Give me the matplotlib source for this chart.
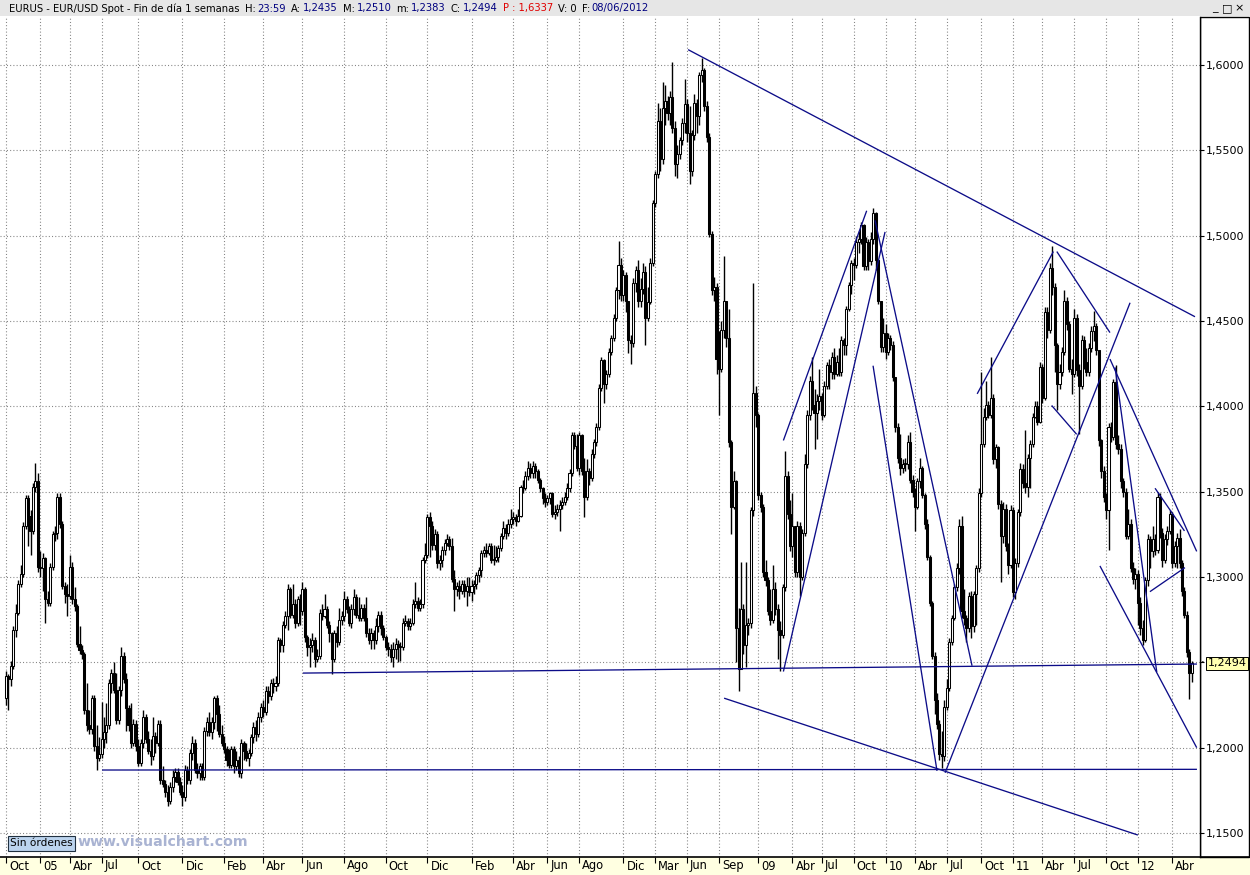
import numpy as np
import matplotlib
matplotlib.use("Agg")
import matplotlib.pyplot as plt
from matplotlib.patches import Rectangle
from matplotlib.lines import Line2D
from matplotlib.transforms import blended_transform_factory, ScaledTranslation

# ---------------- data (weekly EUR/USD candles) ----------------
first_open = 1.229
closes = [
 1.242,1.240,1.248,1.269,1.279,1.296,1.302,1.330,1.346,1.336,
 1.327,1.353,1.356,1.306,1.305,1.311,1.287,1.285,1.306,1.325,
 1.326,1.347,1.331,1.295,1.290,1.289,1.306,1.287,1.283,1.261,
 1.257,1.255,1.222,1.213,1.211,1.229,1.201,1.194,1.196,1.205,
 1.209,1.213,1.238,1.244,1.234,1.216,1.234,1.254,1.240,1.223,
 1.213,1.203,1.214,1.201,1.191,1.203,1.218,1.205,1.198,1.195,
 1.207,1.203,1.214,1.181,1.179,1.174,1.169,1.177,1.183,1.186,
 1.180,1.174,1.171,1.187,1.181,1.197,1.203,1.187,1.185,1.189,
 1.183,1.210,1.215,1.209,1.215,1.229,1.220,1.208,1.203,1.199,
 1.193,1.190,1.199,1.189,1.193,1.185,1.203,1.198,1.194,1.197,
 1.206,1.212,1.208,1.218,1.224,1.221,1.233,1.230,1.238,1.236,
 1.238,1.263,1.260,1.272,1.277,1.293,1.278,1.284,1.273,1.287,
 1.280,1.293,1.265,1.259,1.260,1.263,1.252,1.254,1.279,1.277,
 1.281,1.272,1.267,1.252,1.267,1.262,1.275,1.277,1.287,1.281,
 1.273,1.281,1.288,1.278,1.276,1.282,1.276,1.267,1.263,1.267,
 1.263,1.271,1.278,1.270,1.265,1.259,1.258,1.253,1.258,1.261,
 1.259,1.259,1.273,1.274,1.271,1.273,1.284,1.286,1.282,1.284,
 1.310,1.313,1.335,1.330,1.319,1.325,1.308,1.310,1.316,1.320,
 1.322,1.318,1.299,1.293,1.295,1.292,1.296,1.292,1.295,1.291,
 1.295,1.296,1.301,1.304,1.314,1.316,1.314,1.318,1.310,
 1.310,1.312,1.317,1.324,1.329,1.326,1.331,1.334,1.335,1.333,
 1.336,1.353,1.352,1.359,1.364,1.361,1.365,1.362,1.357,1.352,
 1.346,1.344,1.346,1.349,1.337,1.338,1.340,1.342,1.344,1.347,
 1.352,1.361,1.383,1.377,1.364,1.383,1.362,1.347,1.362,1.358,
 1.372,1.379,1.388,1.411,1.427,1.413,1.419,1.432,1.440,1.452,
 1.468,1.483,1.465,1.477,1.462,1.439,1.437,1.472,1.480,1.462,
 1.469,1.479,1.452,1.461,1.484,1.519,1.536,1.567,1.545,1.575,
 1.579,1.572,1.581,1.563,1.542,1.548,1.556,1.566,1.577,1.560,
 1.538,1.559,1.578,1.570,1.594,1.597,1.576,1.558,1.501,1.468,
 1.470,1.428,
 1.422,1.445,1.462,1.440,1.379,1.341,1.356,1.270,1.246,1.281,
 1.260,1.272,1.273,1.339,1.408,1.395,1.348,1.341,1.303,1.298,
 1.280,1.275,1.293,1.281,1.269,1.266,1.294,1.359,1.337,1.318,
 1.330,1.303,1.330,1.300,1.326,1.366,1.395,1.415,1.401,1.396,
 1.403,1.406,1.395,1.412,1.424,1.420,1.429,1.419,1.426,1.420,
 1.439,1.436,1.457,1.471,1.484,1.483,1.496,1.498,1.506,1.482,
 1.496,1.485,1.498,1.513,1.486,1.462,1.435,1.443,1.432,1.440,
 1.436,1.417,1.388,1.370,1.364,1.366,1.366,1.379,1.357,1.350,
 1.341,1.356,1.364,1.348,1.331,1.312,1.285,1.254,1.228,1.214,
 1.196,1.195,1.224,1.235,1.262,1.276,1.294,
 1.305,1.330,1.280,1.276,1.270,1.289,1.271,1.290,1.305,1.349,
 1.378,1.394,1.401,1.395,1.405,1.369,1.376,1.343,1.324,1.340,
 1.318,1.307,1.339,1.291,1.308,1.338,1.363,1.355,1.353,1.370,
 1.378,1.394,1.400,1.391,1.423,1.405,1.455,1.445,1.481,1.470,
 1.436,1.413,1.420,1.432,1.462,1.448,1.422,1.419,1.452,1.421,
 1.412,1.439,1.426,1.420,1.434,1.444,1.447,1.433,1.380,1.362,
 1.347,1.339,1.388,1.382,1.414,1.378,1.375,1.356,1.350,1.324,
 1.331,1.305,1.299,1.302,1.285,1.270,1.263,1.298,1.322,1.315,
 1.322,1.316,1.347,1.326,1.310,1.322,1.327,1.337,1.308,1.318,
 1.323,1.308,1.292,1.278,1.256,1.2435,1.2494,
]
highs = [
 1.245,1.243,1.251,1.271,1.284,1.298,1.307,1.332,1.348,1.348,
 1.339,1.355,1.367,1.361,1.315,1.314,1.312,1.292,1.308,1.327,
 1.330,1.349,1.349,1.333,1.297,1.296,1.313,1.309,1.294,1.284,
 1.271,1.260,1.256,1.238,1.222,1.231,1.231,1.213,1.206,1.227,
 1.218,1.226,1.240,1.246,1.250,1.244,1.236,1.259,1.256,1.244,
 1.225,1.226,1.217,1.216,1.205,1.205,1.222,1.220,1.210,1.205,
 1.218,1.209,1.216,1.216,1.189,1.181,1.178,1.180,1.187,1.188,
 1.188,1.183,1.178,1.190,1.189,1.199,1.207,1.205,1.191,1.191,
 1.191,1.212,1.218,1.221,1.218,1.230,1.231,1.225,1.213,1.207,
 1.201,1.199,1.201,1.201,1.198,1.195,1.205,1.204,1.203,1.199,
 1.208,1.215,1.216,1.221,1.226,1.228,1.236,1.236,1.240,1.241,
 1.242,1.265,1.264,1.274,1.280,1.296,1.294,1.296,1.287,1.289,
 1.290,1.297,1.294,1.266,1.264,1.267,1.265,1.258,1.281,1.284,
 1.290,1.283,1.274,1.268,1.269,1.271,1.282,1.280,1.292,1.289,
 1.283,1.284,1.293,1.290,1.288,1.284,1.284,1.288,1.270,1.270,
 1.269,1.276,1.280,1.280,1.272,1.266,1.262,1.261,1.262,1.264,
 1.263,1.262,1.276,1.278,1.276,1.276,1.287,1.297,1.288,1.287,
 1.312,1.320,1.337,1.338,1.333,1.328,1.327,1.313,1.318,1.322,
 1.325,1.324,1.323,1.304,1.297,1.298,1.298,1.298,1.300,1.300,
 1.298,1.298,1.303,1.306,1.316,1.318,1.320,1.320,1.320,
 1.319,1.318,1.319,1.326,1.333,1.331,1.334,1.340,1.338,1.337,
 1.340,1.354,1.357,1.362,1.368,1.367,1.368,1.367,1.363,1.358,
 1.353,1.349,1.348,1.350,1.350,1.342,1.343,1.345,1.347,1.350,
 1.355,1.363,1.385,1.385,1.384,1.385,1.384,1.370,1.369,1.364,
 1.375,1.381,1.390,1.413,1.429,1.428,1.421,1.434,1.442,1.454,
 1.470,1.497,1.487,1.480,1.479,1.462,1.442,1.475,1.482,1.486,
 1.475,1.484,1.482,1.470,1.487,1.521,1.538,1.578,1.575,1.590,
 1.588,1.582,1.585,1.602,1.567,1.553,1.558,1.569,1.592,1.580,
 1.576,1.562,1.583,1.580,1.596,1.604,1.598,1.579,1.560,1.503,
 1.476,1.472,
 1.444,1.450,1.488,1.462,1.457,1.380,1.362,1.357,1.282,1.309,
 1.284,1.309,1.276,1.341,1.472,1.412,1.396,1.350,1.343,1.310,
 1.300,1.293,1.307,1.297,1.284,1.274,1.296,1.374,1.362,1.345,
 1.349,1.330,1.333,1.332,1.328,1.372,1.398,1.418,1.429,1.410,
 1.407,1.422,1.408,1.415,1.426,1.428,1.432,1.434,1.430,1.434,
 1.441,1.440,1.459,1.473,1.486,1.487,1.500,1.503,1.508,1.507,
 1.499,1.498,1.502,1.516,1.514,1.486,1.462,1.452,1.448,1.443,
 1.442,1.438,1.417,1.390,1.384,1.369,1.370,1.383,1.385,1.360,
 1.352,1.358,1.370,1.365,1.349,1.334,1.313,1.286,1.256,1.232,
 1.216,1.210,1.228,1.240,1.264,1.278,1.296,
 1.308,1.334,1.336,1.293,1.278,1.291,1.292,1.292,1.307,1.352,
 1.420,1.399,1.415,1.403,1.429,1.407,1.378,1.377,1.345,1.344,
 1.343,1.320,1.342,1.341,1.311,1.340,1.367,1.366,1.386,1.372,
 1.380,1.396,1.403,1.403,1.426,1.425,1.458,1.458,1.484,1.494,
 1.472,1.437,1.425,1.435,1.468,1.464,1.450,1.428,1.457,1.454,
 1.425,1.442,1.441,1.434,1.437,1.447,1.456,1.449,1.433,1.381,
 1.365,1.349,1.390,1.391,1.416,1.424,1.383,1.378,1.358,1.352,
 1.340,1.334,1.309,1.305,1.304,1.288,1.275,1.300,1.325,1.324,
 1.330,1.325,1.350,1.349,1.329,1.325,1.330,1.339,1.338,1.321,
 1.326,1.328,1.310,1.294,1.280,1.258,1.2510,
]
lows = [
 1.225,1.222,1.236,1.246,1.265,1.278,1.294,1.300,1.328,1.318,
 1.313,1.325,1.350,1.303,1.300,1.292,1.273,1.283,1.283,1.304,
 1.321,1.322,1.329,1.293,1.285,1.277,1.287,1.284,1.280,1.259,
 1.255,1.252,1.220,1.210,1.208,1.208,1.198,1.187,1.192,1.194,
 1.200,1.203,1.211,1.232,1.232,1.214,1.214,1.230,1.238,1.210,
 1.210,1.200,1.201,1.198,1.189,1.189,1.200,1.203,1.196,1.190,
 1.193,1.197,1.201,1.179,1.177,1.171,1.166,1.167,1.174,1.180,
 1.178,1.172,1.166,1.169,1.179,1.179,1.193,1.185,1.182,1.181,
 1.181,1.181,1.207,1.207,1.205,1.211,1.210,1.206,1.201,1.197,
 1.189,1.188,1.188,1.185,1.187,1.183,1.182,1.193,1.192,1.189,
 1.195,1.203,1.204,1.206,1.215,1.218,1.219,1.226,1.228,1.232,
 1.233,1.236,1.256,1.256,1.270,1.269,1.276,1.276,1.270,1.271,
 1.272,1.278,1.262,1.254,1.247,1.256,1.247,1.250,1.252,1.275,
 1.276,1.270,1.262,1.243,1.250,1.259,1.260,1.272,1.274,1.279,
 1.271,1.270,1.278,1.276,1.274,1.274,1.274,1.265,1.261,1.258,
 1.258,1.261,1.268,1.266,1.263,1.257,1.254,1.250,1.247,1.252,
 1.250,1.251,1.257,1.271,1.269,1.269,1.272,1.282,1.280,1.280,
 1.282,1.308,1.311,1.312,1.316,1.316,1.305,1.304,1.306,1.313,
 1.318,1.316,1.297,1.280,1.289,1.287,1.290,1.288,1.283,1.289,
 1.286,1.290,1.293,1.297,1.300,1.312,1.312,1.313,1.308,
 1.307,1.309,1.309,1.315,1.322,1.322,1.324,1.329,1.331,1.330,
 1.332,1.335,1.349,1.351,1.357,1.358,1.358,1.358,1.355,1.350,
 1.343,1.341,1.342,1.343,1.335,1.334,1.336,1.327,1.340,1.342,
 1.345,1.350,1.359,1.375,1.362,1.360,1.360,1.335,1.345,1.354,
 1.356,1.370,1.377,1.386,1.409,1.402,1.410,1.417,1.430,1.438,
 1.450,1.463,1.462,1.462,1.455,1.431,1.425,1.435,1.467,1.458,
 1.458,1.466,1.436,1.450,1.460,1.482,1.517,1.534,1.538,1.542,
 1.565,1.568,1.565,1.560,1.535,1.534,1.545,1.553,1.560,1.555,
 1.530,1.535,1.556,1.560,1.565,1.590,1.573,1.555,1.499,1.465,
 1.462,1.419,
 1.395,1.420,1.440,1.435,1.376,1.325,1.340,1.250,1.233,1.246,
 1.255,1.247,1.266,1.270,1.336,1.388,1.345,1.338,1.300,1.295,
 1.278,1.272,1.273,1.278,1.252,1.245,1.264,1.292,1.334,1.315,
 1.312,1.300,1.300,1.289,1.298,1.324,1.364,1.392,1.398,1.375,
 1.381,1.398,1.392,1.394,1.410,1.410,1.416,1.416,1.418,1.418,
 1.418,1.430,1.430,1.456,1.466,1.474,1.481,1.490,1.495,1.480,
 1.480,1.480,1.483,1.495,1.480,1.460,1.432,1.432,1.428,1.430,
 1.433,1.415,1.385,1.367,1.360,1.361,1.362,1.363,1.355,1.347,
 1.327,1.340,1.352,1.346,1.328,1.310,1.283,1.252,1.220,1.211,
 1.193,1.188,1.192,1.222,1.233,1.260,1.275,
 1.292,1.302,1.276,1.272,1.262,1.268,1.264,1.268,1.272,1.303,
 1.347,1.376,1.392,1.393,1.393,1.366,1.364,1.340,1.297,1.320,
 1.315,1.302,1.305,1.288,1.287,1.306,1.336,1.352,1.349,1.347,
 1.352,1.376,1.393,1.389,1.390,1.402,1.404,1.440,1.443,1.465,
 1.420,1.398,1.410,1.418,1.430,1.445,1.420,1.407,1.417,1.418,
 1.384,1.410,1.422,1.418,1.418,1.432,1.438,1.430,1.377,1.358,
 1.344,1.334,1.316,1.379,1.380,1.375,1.372,1.352,1.347,1.322,
 1.322,1.303,1.296,1.293,1.272,1.266,1.260,1.262,1.295,1.305,
 1.312,1.313,1.314,1.323,1.306,1.308,1.319,1.325,1.305,1.306,
 1.305,1.305,1.289,1.276,1.253,1.2288,1.2383,
]
opens = [first_open] + closes[:-1]

tick_bars = [0, 14, 26, 39, 54, 72, 89, 105, 121, 138, 155, 172, 190, 207, 221, 234,
             252, 265, 278, 291, 307, 321, 333, 346, 359, 371, 384, 398, 411, 423,
             436, 449, 462, 476]
tick_labels = ['Oct', '05', 'Abr', 'Jul', 'Oct', 'Dic', 'Feb', 'Abr', 'Jun', 'Ago', 'Oct',
               'Dic', 'Feb', 'Abr', 'Jun', 'Ago', 'Dic', 'Mar', 'Jun', 'Sep', '09', 'Abr',
               'Jul', 'Oct', '10', 'Abr', 'Jul', 'Oct', '11', 'Abr', 'Jul', 'Oct', '12', 'Abr']
price_levels = [1.15, 1.20, 1.25, 1.30, 1.35, 1.40, 1.45, 1.50, 1.55, 1.60]
last_close = 1.2494

# trend lines drawn by the analyst: (bar, price) -> (bar, price)
line_bar0 = [278.4, 121.2, 39.2, 293.1, 317.3, 317.3, 354.7, 353.9, 383.3, 396.4, 428.9, 426.8, 450.6, 452.7, 446.5, 469.0, 466.9]
line_px0 = [1.6090, 1.2437, 1.1869, 1.2290, 1.3800, 1.2446, 1.5090, 1.4238, 1.1853, 1.4073, 1.4907, 1.4005, 1.4277, 1.4228, 1.3065, 1.3520, 1.2914]
line_bar1 = [485.3, 486.1, 486.1, 462.0, 351.3, 358.8, 394.3, 380.0, 458.8, 427.5, 450.6, 437.0, 486.0, 469.7, 486.0, 481.0, 481.2]
line_px1 = [1.4525, 1.2490, 1.1873, 1.1488, 1.5146, 1.5022, 1.2480, 1.1864, 1.4607, 1.4907, 1.4432, 1.3836, 1.3150, 1.2443, 1.2000, 1.3270, 1.3055]

title_parts = [("EURUS - EUR/USD Spot - Fin de día 1 semanas", "black"), ("H:", "black"), ("23:59", "#000080"),
               ("A:", "black"), ("1,2435", "#000080"), ("M:", "black"), ("1,2510", "#000080"),
               ("m:", "black"), ("1,2383", "#000080"), ("C:", "black"), ("1,2494", "#000080"),
               ("P : 1,6337", "#e00000"), ("V: 0", "black"), ("F:", "black"), ("08/06/2012", "#000080")]
title_gaps = [5, 2, 5, 2, 5, 2, 5, 2, 5, 2, 5, 5, 5, 2, 0]

# ---------------- figure ----------------
W, H = 1250, 875
fig = plt.figure(figsize=(W / 100, H / 100), dpi=100)
fig.patch.set_facecolor("white")


def fx(px):
    return px / W


def fy(py):
    return 1 - py / H


PL, PR, PT, PB = 0, 1200, 17, 857
ax = fig.add_axes([fx(PL), fy(PB), (PR - PL) / W, (PB - PT) / H])
ax.set_facecolor("white")
ax.set_xlim(-6 / 2.45, (1200 - 6) / 2.45)
ax.set_ylim(1.6 - (857 - 65) * 0.05 / 85.333, 1.6 + (65 - 17) * 0.05 / 85.333)

# bands / frames drawn at figure level
fig.add_artist(Rectangle((0, fy(16)), 1, 16 / H, transform=fig.transFigure,
                         facecolor="#e6e6e6", edgecolor="none", zorder=-1))
fig.add_artist(Rectangle((0, 0), 1, (H - 857) / H, transform=fig.transFigure,
                         facecolor="#ffffe1", edgecolor="none", zorder=-1))
fig.add_artist(Rectangle((fx(1200), fy(857)), 49 / W, (857 - 17) / H, transform=fig.transFigure,
                         facecolor="white", edgecolor="black", linewidth=1.0, zorder=-1))
fig.add_artist(Line2D([0, 1], [fy(857), fy(857)], transform=fig.transFigure, color="black", lw=1.2, zorder=5))

# grid
ax.set_yticks(price_levels)
ax.set_yticklabels([("%.4f" % v).replace(".", ",") for v in price_levels])
ax.set_xticks(tick_bars)
ax.set_xticklabels(tick_labels, ha="left")
ax.grid(True, color="#808080", linestyle=(0, (0.9, 2.0)), linewidth=0.8, zorder=0)
ax.set_axisbelow(True)

for s in ["top", "left", "bottom"]:
    ax.spines[s].set_visible(False)
ax.spines["right"].set_color("black")
ax.spines["right"].set_linewidth(1.0)

ax.yaxis.tick_right()
ax.tick_params(axis="y", direction="out", length=3, width=0.8, pad=1, labelsize=8,
               colors="black", right=True, left=False, labelright=True, labelleft=False)
ax.tick_params(axis="x", direction="out", length=4.3, width=0.8, pad=-2.5, labelsize=8.3, colors="black")
off = ScaledTranslation(0.03, 0, fig.dpi_scale_trans)
for lab in ax.get_xticklabels():
    lab.set_transform(lab.get_transform() + off)

# candles
o = np.array(opens)
c = np.array(closes)
h = np.array(highs)
l = np.array(lows)
idx = np.arange(len(c))
top = np.maximum(o, c)
bot = np.minimum(o, c)
ax.vlines(idx, np.minimum(l, bot), np.maximum(h, top), colors="black", linewidth=1.0, zorder=3)
hgt = np.maximum(top - bot, 0.0007)
up = c >= o
ax.bar(idx[up], hgt[up], bottom=bot[up], width=0.82, color="white", edgecolor="black",
       linewidth=0.75, zorder=4)
ax.bar(idx[~up], hgt[~up], bottom=bot[~up], width=0.82, color="black", edgecolor="black",
       linewidth=0.75, zorder=4)

# trend lines
for b0, p0, b1, p1 in zip(line_bar0, line_px0, line_bar1, line_px1):
    ax.plot([b0, b1], [p0, p1], color="#0c0c88", linewidth=0.95, zorder=5, solid_capstyle="butt")

# last price tag
ax.annotate(("%.4f" % last_close).replace(".", ","), xy=(1.0, last_close),
            xycoords=blended_transform_factory(ax.transAxes, ax.transData),
            xytext=(5.5, 0), textcoords="offset points", ha="left", va="center",
            fontsize=8, color="black", annotation_clip=False,
            bbox=dict(boxstyle="square,pad=0.12", facecolor="#ffffb0", edgecolor="black", linewidth=0.7))
ax.annotate("", xy=(1.0, last_close), xycoords=blended_transform_factory(ax.transAxes, ax.transData),
            xytext=(4, 2.5), textcoords="offset points", annotation_clip=False,
            arrowprops=dict(arrowstyle="-", color="black", lw=0.6))

# bottom-left button and watermark
fig.text(fx(10), fy(843.5), "Sin órdenes", fontsize=7.6, color="black", ha="left", va="center", zorder=6,
         bbox=dict(boxstyle="square,pad=0.2", facecolor="#bcd4ee", edgecolor="#203040", linewidth=0.8))
fig.text(fx(77), fy(842), "www.visualchart.com", fontsize=10.2, fontweight="bold", color="#a9b3d2",
         ha="left", va="center", zorder=6)

# title bar text, placed part after part
fig.canvas.draw()
renderer = fig.canvas.get_renderer()
xpos = 9.0
for (txt, col), gap in zip(title_parts, title_gaps):
    t = fig.text(fx(xpos), fy(8.5), txt, fontsize=7.2, color=col, ha="left", va="center",
                 family="DejaVu Sans", zorder=6)
    bb = t.get_window_extent(renderer)
    xpos += bb.width + gap

# window buttons top-right
for bx, g in [(1215, "_"), (1227, "□"), (1239, "×")]:
    fig.text(fx(bx), fy(8), g, fontsize=8, color="black", ha="center", va="center", zorder=6)

fig.savefig("out.png", dpi=100)
